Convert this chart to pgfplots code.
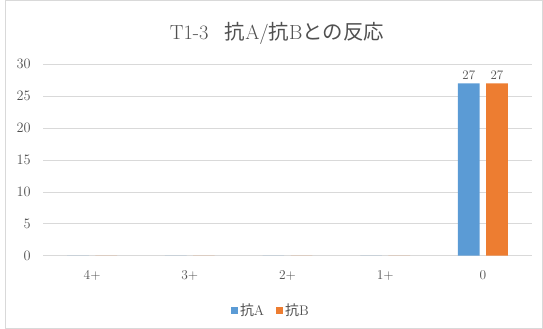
\documentclass[border=0pt]{standalone}
\usepackage{fontspec}
\usepackage{pgfplots}
\pgfplotsset{compat=1.18}
\newfontfamily\cjk{Noto Sans CJK JP}
\definecolor{sA}{HTML}{5B9BD5}
\definecolor{sB}{HTML}{ED7D31}
\definecolor{gridc}{HTML}{D9D9D9}
\definecolor{txt}{HTML}{505050}
\begin{document}
\begin{tikzpicture}
\path[use as bounding box] (0,0) rectangle (543bp,329bp);
\draw[gridc, line width=1bp] (5bp,1bp) rectangle (542bp,328bp);
\begin{axis}[
  at={(43.3bp,73.3bp)}, anchor=south west,
  scale only axis, width=488.4bp, height=191.4bp,
  ybar=6.6bp, bar width=21.6bp,
  xmin=-0.5, xmax=4.5, ymin=0, ymax=30,
  xtick={0,1,2,3,4}, xticklabels={4+,3+,2+,1+,0},
  ytick={0,5,...,30},
  axis x line*=bottom, axis y line*=left,
  y axis line style={draw=none},
  x axis line style={gridc, line width=0.75bp},
  ymajorgrids, grid style={gridc, line width=0.75bp},
  major tick length=0pt,
  tick label style={font=\fontsize{13.5}{15}\selectfont, text=txt},
  yticklabel style={inner sep=0pt, xshift=-12.5bp},
  xticklabel style={inner sep=0pt, yshift=-15bp},
  nodes near coords,
  nodes near coords style={font=\fontsize{13}{15}\selectfont, text=txt},
  point meta=explicit symbolic,
  legend style={at={(0.466,-0.284)}, anchor=center, legend columns=2, draw=none,
    font=\fontsize{14}{16}\selectfont, text=txt,
    /tikz/every even column/.append style={column sep=10bp}},
  legend image code/.code={\path[#1] (0bp,-3.5bp) rectangle (7bp,3.5bp);},
  clip=false,
]
\addplot[fill=sA, draw=none] coordinates {(0,0) [] (1,0) [] (2,0) [] (3,0) [] (4,27) [27]};
\addplot[fill=sB, draw=none] coordinates {(0,0) [] (1,0) [] (2,0) [] (3,0) [] (4,27) [27]};
\legend{{\cjk 抗}A, {\cjk 抗}B}
\end{axis}
\node[text=txt, font=\fontsize{20.5}{23}\selectfont] at (277bp,296bp) {T1-3\hspace{0.8em}{\cjk 抗}A/{\cjk 抗}B{\cjk との反応}};
\end{tikzpicture}
\end{document}
